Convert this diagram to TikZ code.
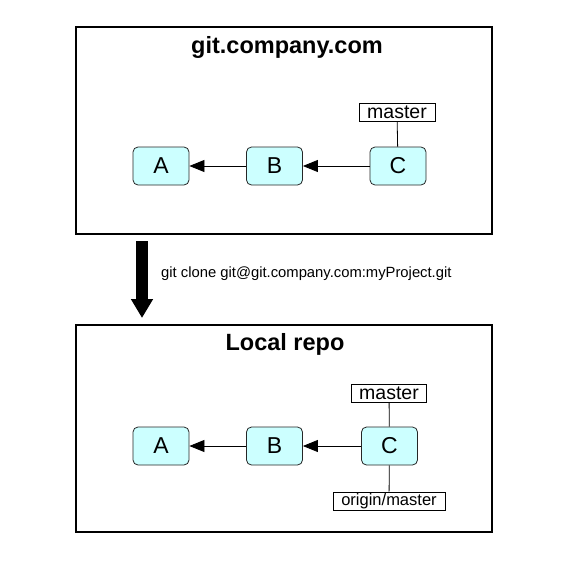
\documentclass[tikz,border=0pt]{standalone}
\usepackage{fontspec}
\setmainfont{Liberation Sans}
\usetikzlibrary{arrows.meta}
\definecolor{commitfill}{HTML}{CCFFFF}
\begin{document}
\begin{tikzpicture}[x=1pt,y=-1pt,
  commit/.style={draw=black!85,fill=commitfill,rounded corners=5pt,line width=0.8pt,
    minimum width=56pt,minimum height=38pt,inner sep=0pt,font=\fontsize{23}{25}\selectfont},
  branch/.style={draw,line width=0.8pt,inner sep=0pt,minimum height=18pt,font=\fontsize{19.5}{21}\selectfont},
  frame/.style={draw,line width=1.8pt},
  title/.style={font=\fontsize{23.5}{26}\selectfont\bfseries},
  parent/.style={line width=0.8pt,-{Triangle[length=15pt,width=12pt]}}]
\useasboundingbox (0,0) rectangle (567,567);
\draw[frame] (76,27) rectangle (492,234);
\draw[frame] (76,325) rectangle (492,532);
\node[title] (remote) at (287,47) {git.company.com};
\node[title] (local) at (285,344) {Local repo};
\node[commit] (rA) at (161,166) {A};
\node[commit] (rB) at (274.5,166) {B};
\node[commit] (rC) at (398,166) {C};
\node[branch,minimum width=76pt] (rmaster) at (397,112.5) {master};
\draw[parent] (rC) -- (rB);
\draw[parent] (rB) -- (rA);
\draw[line width=0.8pt] (rmaster) -- (rC);
\node[commit] (lA) at (161,446) {A};
\node[commit] (lB) at (274.5,446) {B};
\node[commit] (lC) at (389.5,446) {C};
\node[branch,minimum width=75pt] (lmaster) at (389,393) {master};
\node[branch,minimum width=112pt,font=\fontsize{16.5}{18}\selectfont] (lorigin) at (389,501) {origin/master};
\draw[parent] (lC) -- (lB);
\draw[parent] (lB) -- (lA);
\draw[line width=0.8pt] (lmaster) -- (lC);
\draw[line width=0.8pt] (lorigin) -- (lC);
\coordinate (cloneTop) at (142,241);
\coordinate (cloneTip) at (142,318);
\draw[line width=12pt,-{Triangle[length=19pt,width=21pt]}] (cloneTop) -- (cloneTip);
\node[anchor=west,inner sep=0pt,font=\fontsize{14.8}{16}\selectfont] (clone) at (161,274) {git clone git@git.company.com:myProject.git};
\end{tikzpicture}
\end{document}
